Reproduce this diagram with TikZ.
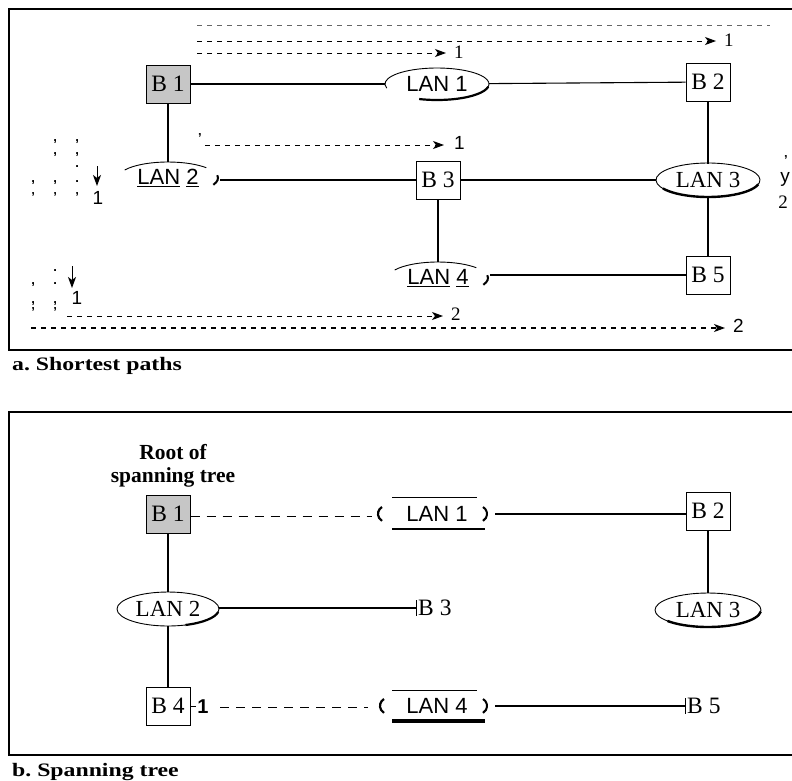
\documentclass[tikz,border=0pt]{standalone}
\usepackage{fontspec}
\setmainfont{Liberation Serif}
\setsansfont{Liberation Sans}
\usetikzlibrary{arrows.meta,shapes.geometric,calc}

\newcommand{\mc}[1]{\makebox[22pt][c]{#1}}

\tikzset{
  bridge/.style={draw, line width=1pt, minimum width=44pt, minimum height=38pt,
                 inner sep=0pt, font=\fontsize{23.5}{25}\selectfont},
  rootbox/.style={bridge, fill=gray!45},
  lan/.style={ellipse, minimum width=104pt, minimum height=32pt, inner sep=0pt},
  lansans/.style={lan, font=\sffamily\fontsize{22}{24}\selectfont},
  lanserif/.style={lan, font=\fontsize{23}{25}\selectfont},
  conn/.style={line width=1.1pt},
  frameln/.style={line width=1.2pt},
  spath/.style={dash pattern=on 5pt off 5pt, line width=0.9pt},
  dpath/.style={dash pattern=on 9pt off 7pt, line width=0.9pt},
  arrowtip/.style={-{Stealth[length=11pt,width=8pt,inset=3pt]}},
  lbl/.style={inner sep=0pt, font=\fontsize{19}{21}\selectfont},
  lbls/.style={inner sep=0pt, font=\sffamily\fontsize{19}{21}\selectfont},
  pmark/.style={inner sep=0pt, font=\sffamily\bfseries\fontsize{13}{14}\selectfont},
  markgroup/.style={inner sep=0pt, anchor=base west, font=\sffamily\bfseries\fontsize{13}{13}\selectfont},
  captxt/.style={inner sep=0pt, anchor=west, font=\bfseries\fontsize{19}{21}\selectfont},
  roottxt/.style={inner sep=0pt, font=\bfseries\fontsize{21.5}{23}\selectfont},
}

\begin{document}
\begin{tikzpicture}[x=1pt,y=1pt]
\useasboundingbox (0,0) rectangle (792,-780);

% ================= panel a =================
\draw[frameln] (792,-9) -- (9,-9) -- (9,-350) -- (792,-350);
\node[captxt] (capa) at (12,-366) {\scalebox{1.25}[1]{a.\ Shortest paths}};

% bridges
\node[rootbox] (a1) at (168,-84) {B 1};
\node[bridge] (a2) at (708,-82) {B 2};
\node[bridge] (a3) at (438,-180) {B 3};
\node[bridge] (a5) at (708,-275) {B 5};

% LANs
\node[lansans] (al1) at (437,-84) {LAN 1};
\node[lansans] (al2) at (168,-178) {\underline{LAN}~\underline{2}};
\node[lanserif] (al3) at (708,-180) {LAN 3};
\node[lansans] (al4) at (438,-278) {\underline{LAN}~\underline{4}};

% LAN outlines (partial, as printed)
\draw[line width=0.9pt, shift={(al1)}] (195:52 and 16) arc[start angle=195, end angle=-50, x radius=52, y radius=16];
\draw[line width=2.2pt, shift={(al1)}] (-10:52 and 16) arc[start angle=-10, end angle=-110, x radius=52, y radius=16];
\draw[line width=0.9pt, shift={(al2)}] (150:50 and 16) arc[start angle=150, end angle=40, x radius=50, y radius=16];
\draw[line width=2pt, shift={(al2)}] (10:50 and 16) arc[start angle=10, end angle=-25, x radius=50, y radius=16];
\draw[line width=0.9pt, shift={(al3)}] (260:52 and 17) arc[start angle=-100, end angle=215, x radius=52, y radius=17];
\draw[line width=2.4pt, shift={(al3)}] (-15:52 and 17) arc[start angle=-15, end angle=-150, x radius=52, y radius=17];
\draw[line width=0.9pt, shift={(al4)}] (150:50 and 16) arc[start angle=150, end angle=40, x radius=50, y radius=16];
\draw[line width=2pt, shift={(al4)}] (10:50 and 16) arc[start angle=10, end angle=-25, x radius=50, y radius=16];

% connectors
\draw[conn] (a1) -- (al1);
\draw[conn] (al1) -- (a2);
\draw[conn] (a1) -- (al2);
\draw[conn] (al2.east |- a3.west) -- (a3.west);
\draw[conn] (a3) -- (al3);
\draw[conn] (a2) -- (al3);
\draw[conn] (a3) -- (al4);
\draw[conn] (al4.east |- a5.west) -- (a5.west);
\draw[conn] (al3) -- (a5);

% shortest path arrows
\coordinate (p1s) at (197,-25);  \coordinate (p1e) at (770,-25);
\coordinate (p2s) at (197,-41);  \coordinate (p2e) at (716,-41);
\coordinate (p3s) at (197,-53);  \coordinate (p3e) at (446,-53);
\coordinate (p4s) at (205,-145); \coordinate (p4e) at (444,-145);
\coordinate (p5s) at (67,-316);  \coordinate (p5e) at (443,-316);
\coordinate (p6s) at (31,-328);  \coordinate (p6e) at (725,-328);
\draw[spath, gray!80!black] (p1s) -- (p1e);
\draw[spath, arrowtip] (p2s) -- (p2e);
\draw[spath, arrowtip] (p3s) -- (p3e);
\draw[spath, arrowtip] (p4s) -- (p4e);
\draw[spath, arrowtip] (p5s) -- (p5e);
\draw[spath, arrowtip, line width=1.2pt] (p6s) -- (p6e);
\node[lbl, anchor=west] (t2) at (724,-40) {1};
\node[lbl, anchor=west] (t3) at (454,-52) {1};
\node[lbls, anchor=west] (t4) at (454,-143) {1};
\node[lbl, anchor=west] (t5) at (451,-314) {2};
\node[lbls, anchor=west] (t6) at (733,-326) {2};
\node[pmark] (q0) at (200,-138) {'};

% marks beside LAN 3
\node[pmark] (y1) at (786,-160) {'};
\node[lbls] (y2) at (785,-179) {y};
\node[lbl] (y3) at (783,-202) {2};

% left marks (upper)
\coordinate (d1s) at (97,-166); \coordinate (d1e) at (97,-186);
\draw[line width=1pt, arrowtip] (d1s) -- (d1e);
\node[lbls] (n1) at (98,-198) {1};
\node[markgroup] (mg1) at (22,-141) {\begin{tabular}[t]{@{}l@{}}
\mc{}\mc{,}\mc{,}\\[0pt]
\mc{}\mc{,}\mc{,}\\[0pt]
\mc{}\mc{}\mc{.}\\[2pt]
\mc{,}\mc{,}\mc{.}\\[6pt]
\mc{'}\mc{'}\mc{'}
\end{tabular}};

% left marks (lower)
\coordinate (d2s) at (72,-266); \coordinate (d2e) at (72,-288);
\draw[line width=1pt, arrowtip] (d2s) -- (d2e);
\node[lbls] (n2) at (77,-298) {1};
\node[markgroup] (mg2) at (22,-271) {\begin{tabular}[t]{@{}l@{}}
\mc{}\mc{.}\\[0pt]
\mc{,}\mc{.}\\[6pt]
\mc{,}\mc{,}\\[0pt]
\mc{'}\mc{'}
\end{tabular}};

% ================= panel b =================
\draw[frameln] (792,-412) -- (9,-412) -- (9,-755) -- (792,-755);
\node[captxt] (capb) at (12,-772) {\scalebox{1.25}[1]{b.\ Spanning tree}};

\node[roottxt] (root1) at (173,-452) {Root of};
\node[roottxt] (root2) at (173,-477) {spanning tree};

\node[rootbox] (b1) at (168,-514) {B 1};
\node[bridge] (b2) at (708,-511) {B 2};
\node[bridge] (b4) at (168,-706) {B 4};

\node[lanserif, draw, line width=0.9pt, minimum width=102pt, minimum height=34pt] (bl2) at (168,-609) {LAN 2};
\node[lanserif, draw, line width=0.9pt, minimum width=106pt, minimum height=34pt] (bl3) at (708,-610) {LAN 3};
\draw[line width=2.2pt, shift={(bl2)}] (-10:51 and 17) arc[start angle=-10, end angle=-70, x radius=51, y radius=17];
\draw[line width=2.4pt, shift={(bl3)}] (-5:53 and 17) arc[start angle=-5, end angle=-140, x radius=53, y radius=17];

% LAN 1 and LAN 4 drawn as bracketed labels
\node[lansans, minimum width=96pt] (bl1) at (437,-514) {LAN 1};
\node[lansans, minimum width=96pt] (bl4) at (437,-706) {LAN 4};
\draw[line width=0.8pt] ($(bl1)+(-45,17)$) -- ($(bl1)+(40,17)$);
\draw[line width=2.2pt] ($(bl1)+(-45,-15)$) -- ($(bl1)+(48,-15)$);
\draw[line width=0.8pt] ($(bl4)+(-45,16)$) -- ($(bl4)+(40,16)$);
\draw[line width=3.2pt] ($(bl4)+(-45,-15)$) -- ($(bl4)+(48,-15)$);
\draw[line width=2.2pt] ($(bl1)+(-55,7)$) arc[start angle=120, end angle=240, x radius=8, y radius=8];
\draw[line width=2pt] ($(bl1)+(46,7)$) arc[start angle=60, end angle=-60, x radius=8, y radius=8];
\draw[line width=2.2pt] ($(bl4)+(-53,7)$) arc[start angle=120, end angle=240, x radius=8, y radius=8];
\draw[line width=2pt] ($(bl4)+(46,7)$) arc[start angle=60, end angle=-60, x radius=8, y radius=8];

% B 3 and B 5 as tick + label
\node[inner sep=0pt, anchor=west, font=\fontsize{23.5}{25}\selectfont] (b3) at (418,-608) {B 3};
\node[inner sep=0pt, anchor=west, font=\fontsize{23.5}{25}\selectfont] (b5) at (687,-706) {B 5};
\draw[line width=1pt] ($(b3.west)+(-2,8)$) -- ($(b3.west)+(-2,-8)$);
\draw[line width=1pt] ($(b5.west)+(-2,8)$) -- ($(b5.west)+(-2,-8)$);

% connectors
\coordinate (bd1) at (372,-516);
\draw[dpath] (b1.east |- bd1) -- (bd1);
\draw[conn] ($(bl1.east)+(10,0)$) -- (b2.west |- bl1.east);
\draw[conn] (b1) -- (bl2);
\draw[conn] (b2) -- (bl3);
\draw[conn] (bl2.east |- b3.west) -- ($(b3.west)+(-2,0)$);
\draw[conn] (bl2) -- (b4);
\coordinate (bd2s) at (220,-707); \coordinate (bd2e) at (368,-707);
\draw[dpath] (bd2s) -- (bd2e);
\draw[line width=1pt] (b4.east) -- ++(5,0);
\node[inner sep=0pt, font=\sffamily\bfseries\fontsize{20}{22}\selectfont] (one) at (203,-707) {1};
\draw[conn] ($(bl4.east)+(10,0)$) -- ($(b5.west)+(-2,0)$);
\end{tikzpicture}
\end{document}
